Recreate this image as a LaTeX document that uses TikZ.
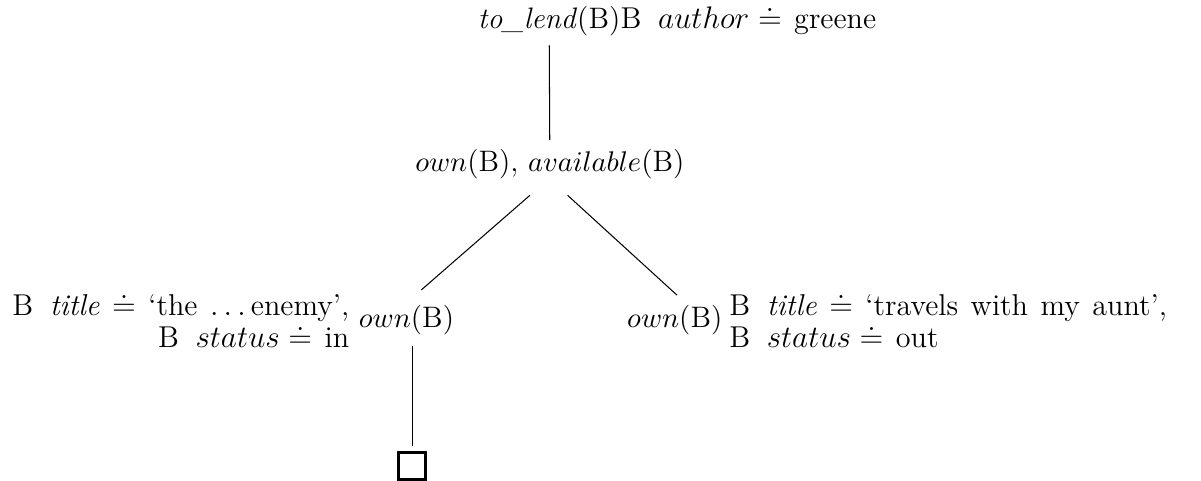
\documentclass[tikz,border=0pt]{standalone}
\usepackage{amssymb}
\usetikzlibrary{positioning}
\newcommand{\notefont}{\fontsize{11.6pt}{12.3pt}\selectfont\spaceskip=4.8pt plus 1pt\relax}
\newcommand{\gapB}{\hspace{0.55em}}
\tikzset{
  every node/.append style={font=\fontsize{11.4pt}{12.3pt}\selectfont},
  note/.style={inner sep=0pt, font=\notefont},
  leaf/.style={draw, minimum size=10.5pt, inner sep=0pt, line width=1.1pt},
}
\begin{document}
\begin{tikzpicture}
      \useasboundingbox (0,0) rectangle (16.25,6.508);
      \draw
        (7.43,6.12) node[anchor=base] (lend){\textit{to\_lend}(B)}
        (7.44,4.19) node[anchor=base] (mid){$own$(B), $available$(B)}
        (5.50,2.08) node[anchor=base] (ownl){$own$(B)}
        (9.13,2.08) node[anchor=base] (ownr){$own$(B)}
        (5.575,0.203) node[leaf] (box){};
      \node[note, anchor=base west] (author) at ([xshift=-3.6pt]lend.base east)
        {B\gapB$author \doteq$ greene};
      \node[note, align=right, left=0pt of ownl] (notel)
        {B\gapB\textit{title} $\doteq$ `the $\ldots$\,enemy',\\ B\gapB$status \doteq$ in};
      \node[note, align=left, right=-1pt of ownr] (noter)
        {B\gapB\textit{title} $\doteq$ `travels with my aunt',\\ B\gapB$status \doteq$ out};
      \begin{scope}[-]
        \draw (lend) to (mid);
        \draw ([xshift=-0.27cm,yshift=-0.1cm]mid.south) to ([xshift=0.2cm,yshift=0.08cm]ownl.north);
        \draw ([xshift=0.24cm,yshift=-0.1cm]mid.south) to ([xshift=0.03cm,yshift=0.01cm]ownr.north);
        \draw[shorten <=1pt, shorten >=2pt] (box.north |- ownl.south) to (box.north);
      \end{scope}
    \end{tikzpicture}
\end{document}
